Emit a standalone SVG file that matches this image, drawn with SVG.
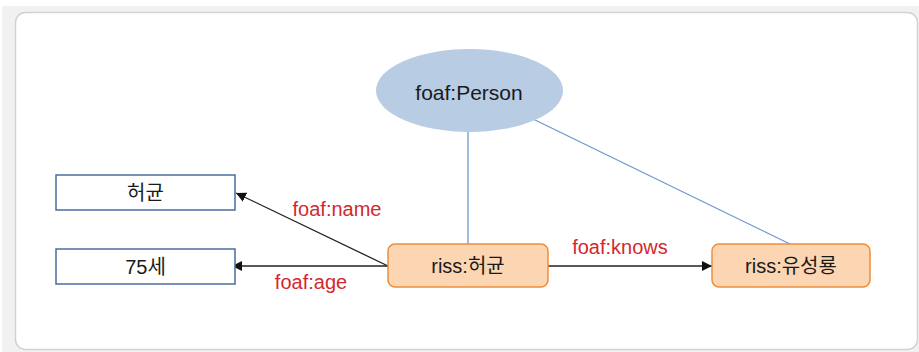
<svg xmlns="http://www.w3.org/2000/svg" width="919" height="352" viewBox="0 0 919 352">
<defs>
<marker id="arr" viewBox="0 0 10 10" refX="10" refY="5" markerWidth="10" markerHeight="10" markerUnits="userSpaceOnUse" orient="auto">
<path d="M0,0 L10,5 L0,10 Z" fill="#111"/>
</marker>
</defs>
<style>
text{font-family:"Liberation Sans","Noto Sans CJK KR",Arial,sans-serif;font-size:20px;text-anchor:middle;dominant-baseline:central;fill:#1a1a1a}
.lbl{fill:#d4282e}
.val{fill:#fff;stroke:#4a6c9e;stroke-width:1.5}
.res{fill:#fcd5b2;stroke:#ef8d3a;stroke-width:1.5}
.blue{stroke:#6f97cf;stroke-width:1.3;fill:none}
.blk{stroke:#222;stroke-width:1.3;fill:none;marker-end:url(#arr)}
</style>
<rect x="2" y="6" width="917" height="346" fill="#f1f1f1"/>
<rect x="15.5" y="12.5" width="902" height="337" rx="10" fill="#fff" stroke="#d2d2d2" stroke-width="1.5"/>
<g id="connectors">
<line class="blue" x1="468" y1="132" x2="468" y2="244"/>
<line class="blue" x1="533" y1="119" x2="790" y2="244"/>
<line class="blk" x1="388" y1="266" x2="236" y2="193"/>
<line class="blk" x1="388" y1="266" x2="232" y2="266"/>
<line class="blk" x1="548" y1="266" x2="712" y2="266"/>
<text class="lbl" x="337" y="209">foaf:name</text>
<text class="lbl" x="311" y="282">foaf:age</text>
<text class="lbl" x="620" y="247">foaf:knows</text>
</g>
<g id="person">
<ellipse cx="469.5" cy="90.5" rx="93.5" ry="41.5" fill="#b8cce4"/>
<text x="469" y="92" style="font-size:21px">foaf:Person</text>
</g>
<g id="name">
<rect class="val" x="56" y="175" width="179" height="35"/>
<text x="145.5" y="192.5">허균</text>
</g>
<g id="age">
<rect class="val" x="56" y="249" width="179" height="35"/>
<text x="145.5" y="266.5">75세</text>
</g>
<g id="heogyun">
<rect class="res" x="388" y="244" width="160" height="43" rx="7"/>
<text x="468" y="266">riss:허균</text>
</g>
<g id="yuseongryong">
<rect class="res" x="712" y="244" width="158" height="43" rx="7"/>
<text x="791" y="266">riss:유성룡</text>
</g>
</svg>
